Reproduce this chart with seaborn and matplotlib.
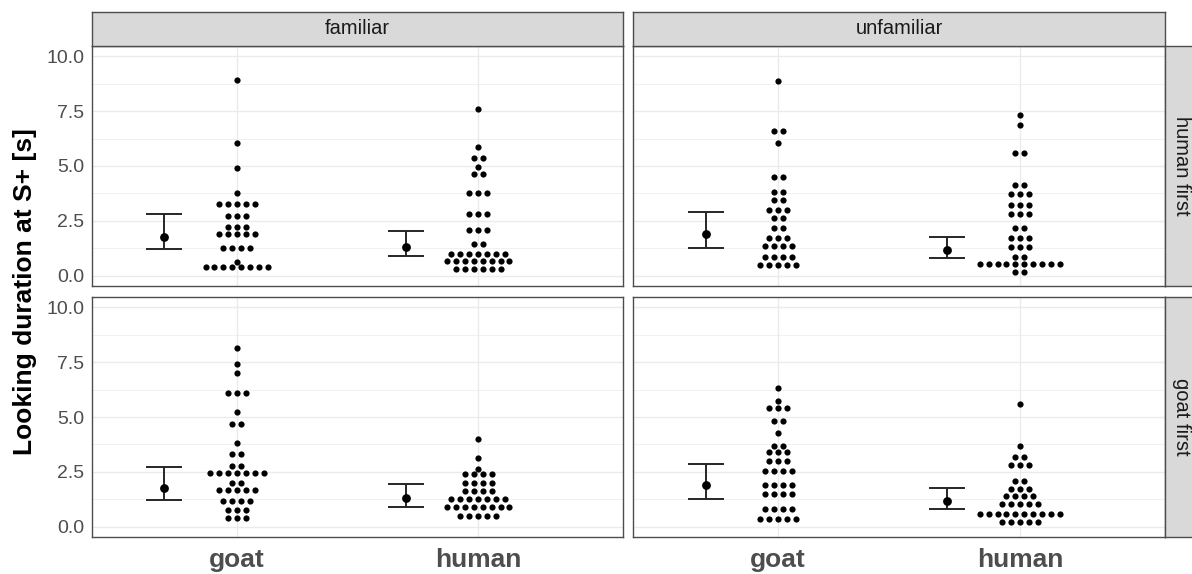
import numpy as np
import pandas as pd
import matplotlib
matplotlib.use('Agg')
import matplotlib.pyplot as plt
import seaborn as sns

# dot rows: y level of each stacked row [s] and number of dots in that row
hf_fam_goat_y = [8.91, 6.06, 4.92, 3.79, 3.29, 2.73, 2.24, 1.89, 1.27, 0.65, 0.41]
hf_fam_goat_n = [1, 1, 1, 1, 5, 3, 3, 5, 4, 1, 8]
hf_fam_human_y = [7.59, 5.88, 5.38, 4.97, 4.65, 3.76, 2.80, 2.09, 1.45, 1.02, 0.67, 0.30]
hf_fam_human_n = [1, 1, 2, 1, 2, 3, 3, 3, 2, 7, 8, 6]
hf_unf_goat_y = [8.85, 6.58, 6.06, 4.48, 3.83, 3.45, 3.00, 2.62, 2.17, 1.71, 1.38, 0.88, 0.50]
hf_unf_goat_n = [1, 2, 1, 2, 2, 2, 3, 2, 2, 3, 4, 4, 5]
hf_unf_human_y = [7.32, 6.85, 5.59, 4.12, 3.74, 3.23, 2.80, 2.17, 1.73, 1.30, 0.88, 0.56, 0.18]
hf_unf_human_n = [1, 1, 2, 2, 3, 3, 3, 2, 3, 3, 2, 10, 2]
gf_fam_goat_y = [8.15, 7.42, 6.98, 6.09, 5.23, 4.70, 3.83, 3.31, 2.78, 2.46, 2.02, 1.67, 1.19, 0.79, 0.41]
gf_fam_goat_n = [1, 1, 1, 3, 1, 2, 1, 2, 2, 7, 2, 5, 4, 3, 3]
gf_fam_human_y = [4.01, 3.15, 2.63, 2.39, 1.99, 1.64, 1.26, 0.93, 0.49]
gf_fam_human_n = [1, 1, 1, 4, 4, 4, 7, 8, 5]
gf_unf_goat_y = [6.32, 5.71, 5.40, 4.83, 4.27, 3.69, 3.39, 3.01, 2.54, 1.93, 1.49, 0.84, 0.35]
gf_unf_goat_n = [1, 1, 3, 2, 1, 2, 3, 3, 4, 4, 4, 4, 5]
gf_unf_human_y = [5.58, 3.68, 3.19, 2.80, 2.08, 1.73, 1.41, 1.06, 0.59, 0.21]
gf_unf_human_n = [1, 1, 2, 3, 2, 3, 4, 5, 10, 5]

familiarity = ['familiar', 'unfamiliar']
orders = ['human first', 'goat first']
species = ['goat', 'human']

# estimates with intervals, panel order: hf/fam, hf/unf, gf/fam, gf/unf
goat_mean = [1.79, 1.91, 1.79, 1.90]
goat_lo = [1.23, 1.27, 1.22, 1.28]
goat_hi = [2.80, 2.89, 2.72, 2.87]
human_mean = [1.32, 1.17, 1.32, 1.17]
human_lo = [0.91, 0.80, 0.90, 0.81]
human_hi = [2.06, 1.77, 1.95, 1.75]

groups = [
    ('human first', 'familiar', 'goat', hf_fam_goat_y, hf_fam_goat_n),
    ('human first', 'familiar', 'human', hf_fam_human_y, hf_fam_human_n),
    ('human first', 'unfamiliar', 'goat', hf_unf_goat_y, hf_unf_goat_n),
    ('human first', 'unfamiliar', 'human', hf_unf_human_y, hf_unf_human_n),
    ('goat first', 'familiar', 'goat', gf_fam_goat_y, gf_fam_goat_n),
    ('goat first', 'familiar', 'human', gf_fam_human_y, gf_fam_human_n),
    ('goat first', 'unfamiliar', 'goat', gf_unf_goat_y, gf_unf_goat_n),
    ('goat first', 'unfamiliar', 'human', gf_unf_human_y, gf_unf_human_n),
]

DOT_STEP = 0.037   # horizontal spacing of stacked dots (x units)
SUM_SHIFT = -0.30  # summary drawn to the left of the dots

rows = []
for order, fam, sp, ys, ns in groups:
    for y, n in zip(ys, ns):
        for i in range(n):
            rows.append({'order': order, 'familiarity': fam, 'species': sp,
                         'duration': y, 'slot': i - (n - 1) / 2})
df = pd.DataFrame(rows)
df['x'] = df['species'].map({s: i for i, s in enumerate(species)}) + df['slot'] * DOT_STEP

summ = []
k = 0
for order in orders:
    for fam in familiarity:
        summ.append({'order': order, 'familiarity': fam, 'species': 'goat',
                     'mean': goat_mean[k], 'lo': goat_lo[k], 'hi': goat_hi[k]})
        summ.append({'order': order, 'familiarity': fam, 'species': 'human',
                     'mean': human_mean[k], 'lo': human_lo[k], 'hi': human_hi[k]})
        k += 1
summ = pd.DataFrame(summ)
summ['x'] = summ['species'].map({s: i for i, s in enumerate(species)}) + SUM_SHIFT

sns.set_theme(style='white')
plt.rcParams['font.family'] = ['Liberation Sans', 'DejaVu Sans']

W, H = 1192, 574
fig = plt.figure(figsize=(W / 100, H / 100), dpi=100)


def px_axes(x0, y0, x1, y1):
    return fig.add_axes([x0 / W, 1 - y1 / H, (x1 - x0) / W, (y1 - y0) / H])


col_px = [(92, 623), (633, 1165)]
row_px = [(46, 286), (297, 537)]
border = '#4D4D4D'

for r, order in enumerate(orders):
    for c, fam in enumerate(familiarity):
        ax = px_axes(col_px[c][0], row_px[r][0], col_px[c][1], row_px[r][1])
        ax.set_facecolor('white')
        ax.set_axisbelow(True)
        sub = df[(df['order'] == order) & (df['familiarity'] == fam)]
        sm = summ[(summ['order'] == order) & (summ['familiarity'] == fam)]

        ax.errorbar(sm['x'], sm['mean'],
                    yerr=[sm['mean'] - sm['lo'], sm['hi'] - sm['mean']],
                    fmt='none', ecolor='#262626', elinewidth=1.4,
                    capsize=13, capthick=1.4, zorder=2)
        sns.scatterplot(data=sm, x='x', y='mean', color='black', s=40,
                        linewidth=0, ax=ax, legend=False, zorder=3)
        sns.scatterplot(data=sub, x='x', y='duration', color='black', s=20,
                        linewidth=0, ax=ax, legend=False, zorder=3)

        ax.set_xlim(-0.6, 1.6)
        ax.set_ylim(-0.455, 10.455)
        ax.set_xticks([0, 1])
        ax.set_yticks([0, 2.5, 5, 7.5, 10])
        ax.set_yticks([1.25, 3.75, 6.25, 8.75], minor=True)
        ax.grid(which='major', color='#EBEBEB', linewidth=1.0)
        ax.grid(which='minor', axis='y', color='#EBEBEB', linewidth=0.5)
        ax.set_xlabel('')
        ax.set_ylabel('')
        for sp_ in ax.spines.values():
            sp_.set_color(border)
            sp_.set_linewidth(1.0)
        ax.tick_params(which='minor', length=0)
        ax.tick_params(which='major', length=2.75, width=0.9, color=border,
                       labelcolor='#4D4D4D', pad=3)
        ax.tick_params(axis='y', labelsize=14)
        if c == 0:
            ax.set_yticklabels(['0.0', '2.5', '5.0', '7.5', '10.0'])
        else:
            ax.tick_params(axis='y', length=0, labelleft=False)
        if r == 1:
            ax.set_xticklabels(species, fontsize=19, fontweight='bold')
            ax.tick_params(axis='x', pad=5)
        else:
            ax.tick_params(axis='x', length=0, labelbottom=False)

# facet strips
for c, fam in enumerate(familiarity):
    st = px_axes(col_px[c][0], 12, col_px[c][1], 46)
    st.set_facecolor('#D9D9D9')
    st.set_xticks([])
    st.set_yticks([])
    for sp_ in st.spines.values():
        sp_.set_color(border)
        sp_.set_linewidth(1.0)
    st.text(0.5, 0.5, fam, ha='center', va='center', fontsize=14.5,
            color='#1A1A1A', transform=st.transAxes)

for r, order in enumerate(orders):
    st = px_axes(1165, row_px[r][0], 1199, row_px[r][1])
    st.set_facecolor('#D9D9D9')
    st.set_xticks([])
    st.set_yticks([])
    for sp_ in st.spines.values():
        sp_.set_color(border)
        sp_.set_linewidth(1.0)
    st.text(0.5, 0.5, order, ha='center', va='center', fontsize=14.5,
            rotation=-90, color='#1A1A1A', transform=st.transAxes)

fig.text(25 / W, 1 - 291.5 / H, 'Looking duration at S+ [s]', rotation=90,
         ha='center', va='center', fontsize=19, fontweight='bold', color='black')

fig.savefig('out.png', dpi=100)
